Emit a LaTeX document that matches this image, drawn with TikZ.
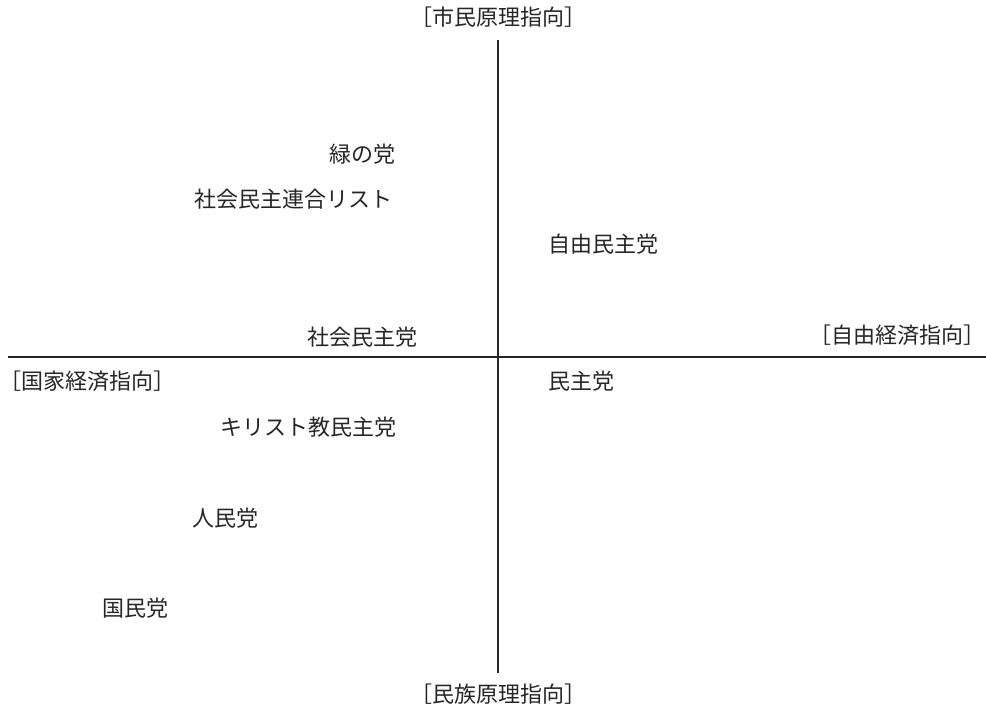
\documentclass[tikz,border=0pt]{standalone}
\usepackage{fontspec}
\setmainfont{Noto Sans CJK JP}
\begin{document}
\begin{tikzpicture}[x=1pt,y=-1pt,
  lbl/.style={inner sep=0pt,font=\fontsize{22}{24}\selectfont,text=black!85},
  axis/.style={line width=1.6pt,black!85}]
\useasboundingbox (0,0) rectangle (986,710);
\node[lbl] (top) at (498,17) {［市民原理指向］};
\node[lbl] (bot) at (498,694) {［民族原理指向］};
\node[lbl,anchor=east] (right) at (986,335) {［自由経済指向］};
\node[lbl,anchor=west] (left) at (10,381) {\hspace{-0.5em}［国家経済指向］};
\coordinate (vt) at (498,40);
\coordinate (vb) at (498,673);
\coordinate (hl) at (8,357);
\coordinate (hr) at (986,357);
\draw[axis] (vt) -- (vb);
\draw[axis] (hl) -- (hr);
\node[lbl,anchor=east] (midori) at (396,154) {緑の党};
\node[lbl,anchor=east] (shaminren) at (393,199) {社会民主連合リスト};
\node[lbl,anchor=west] (jiminto) at (548,244) {自由民主党};
\node[lbl,anchor=east] (shamin) at (418,337) {社会民主党};
\node[lbl,anchor=west] (minshu) at (548,381) {民主党};
\node[lbl,anchor=east] (kirisuto) at (397,427) {キリスト教民主党};
\node[lbl,anchor=east] (jinmin) at (259,518) {人民党};
\node[lbl,anchor=east] (kokumin) at (169,608) {国民党};
\end{tikzpicture}
\end{document}
